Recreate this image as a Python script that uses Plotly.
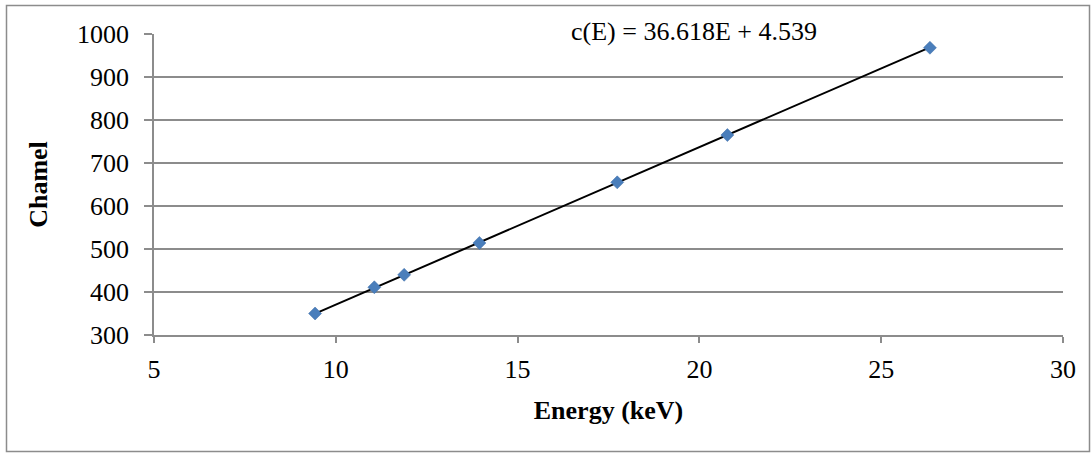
import plotly.graph_objects as go

# Calibration points: photon energy (keV) vs. detector channel
energy_kev = [9.43, 11.06, 11.88, 13.95, 17.74, 20.77, 26.34]
channel = [350, 411, 440, 514, 655, 765, 968]

# Linear fit c(E) = slope * E + intercept
slope = 36.618
intercept = 4.539
fit_label = "c(E) = 36.618E + 4.539"

x_ticks = [5, 10, 15, 20, 25, 30]
y_ticks = [300, 400, 500, 600, 700, 800, 900, 1000]

W, H = 1092, 453
ML, MR, MT, MB = 154, 29, 34, 118
plot_w = W - ML - MR
plot_h = H - MT - MB

fit_x = [min(energy_kev), max(energy_kev)]
fit_y = [slope * e + intercept for e in fit_x]

grid = "#8c8c8c"
serif = "Liberation Serif, Times New Roman, serif"


def px_to_paper_x(px):
    return (px - ML) / plot_w


def px_to_paper_y(py):
    return (H - MB - py) / plot_h


fig = go.Figure()
fig.add_trace(go.Scatter(
    x=fit_x, y=fit_y, mode="lines",
    line=dict(color="black", width=2),
    showlegend=False, hoverinfo="skip",
))
fig.add_trace(go.Scatter(
    x=energy_kev, y=channel, mode="markers",
    marker=dict(symbol="diamond", size=10, color="#4a7ebb",
                line=dict(color="#3d6ca6", width=0.5)),
    showlegend=False,
))

# trendline equation label
fig.add_annotation(
    x=px_to_paper_x(694), y=px_to_paper_y(32), xref="paper", yref="paper",
    text=fit_label, showarrow=False,
    font=dict(family=serif, size=26, color="black"),
    xanchor="center", yanchor="middle",
)

# outer chart frame
fig.add_shape(
    type="rect", xref="paper", yref="paper",
    x0=px_to_paper_x(6.5), x1=px_to_paper_x(1089.5),
    y0=px_to_paper_y(451.5), y1=px_to_paper_y(5.5),
    line=dict(color="#8c8c8c", width=1.5), layer="below",
)

fig.update_layout(
    width=W, height=H,
    margin=dict(l=ML, r=MR, t=MT, b=MB),
    paper_bgcolor="white", plot_bgcolor="white",
    font=dict(family=serif, size=26, color="black"),
    xaxis=dict(
        range=[5, 30], tickvals=x_ticks, ticks="outside", ticklen=6,
        tickcolor=grid, tickwidth=1.5,
        showline=True, linecolor=grid, linewidth=1.5,
        showgrid=False, zeroline=False,
        title=dict(text="<b>Energy (keV)</b>", font=dict(family=serif, size=26),
                   standoff=18),
        tickfont=dict(family=serif, size=26),
        ticklabelstandoff=4,
    ),
    yaxis=dict(
        range=[300, 1000], tickvals=y_ticks, ticks="outside", ticklen=8,
        tickcolor=grid, tickwidth=1.5,
        showline=True, linecolor=grid, linewidth=1.5,
        showgrid=True, gridcolor=grid, gridwidth=1.5,
        zeroline=False,
        title=dict(text="<b>Chamel</b>", font=dict(family=serif, size=26),
                   standoff=22),
        tickfont=dict(family=serif, size=26),
        ticklabelstandoff=10,
    ),
)

fig.write_html("out.html")
